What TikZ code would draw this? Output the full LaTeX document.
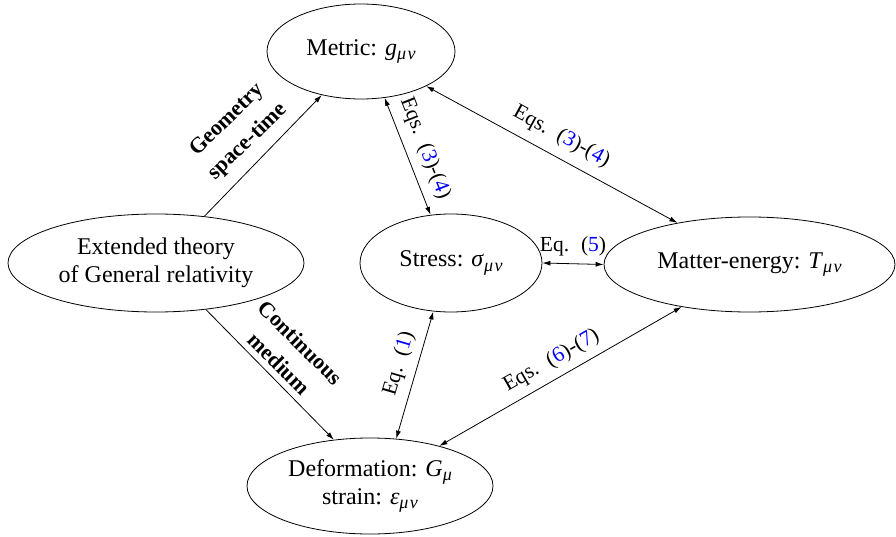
\documentclass[tikz,border=0pt]{standalone}
\usepackage{fontspec}
\setmainfont{Liberation Serif}
\newfontfamily\lblfont{Liberation Serif}
\usetikzlibrary{shapes.geometric,arrows.meta}
\definecolor{refblue}{RGB}{0,0,255}
\newcommand\eqn[1]{(\textcolor{refblue}{#1})}
\newcommand\lowsub[1]{\raisebox{-0.4ex}{\fontsize{18}{18}\selectfont\itshape #1}}
\newcommand\mn{μ\kern0.08emν}
\newcommand\gap{\hspace{0.55em}}
\tikzset{
  ell/.style={draw, ellipse, inner sep=0pt, line width=0.8pt, align=center,
    font=\fontsize{24}{28}\selectfont},
  conn/.style={line width=0.8pt, -{Latex[length=8pt,width=5pt]}},
  biconn/.style={line width=0.8pt, {Latex[length=8pt,width=5pt]}-{Latex[length=8pt,width=5pt]}},
  lbl/.style={inner sep=0pt, align=center, font=\lblfont\fontsize{21.5}{24}\selectfont},
  blbl/.style={inner sep=0pt, align=center, font=\lblfont\fontsize{22}{30}\selectfont\bfseries},
}
\begin{document}
\begin{tikzpicture}[x=1pt,y=-1pt]
\useasboundingbox (0,0) rectangle (896,537);
\node[ell, minimum width=188pt, minimum height=95pt] (metric) at (361,51.5) {Metric: \textit{g}\lowsub{\mn}};
\node[ell, minimum width=296pt, minimum height=98pt] (ext) at (156,263) {Extended theory\\of General relativity};
\node[ell, minimum width=182pt, minimum height=98pt] (stress) at (451,263) {Stress: \textit{σ}\lowsub{\mn}};
\node[ell, minimum width=291pt, minimum height=95pt] (matter) at (749.5,264.5) {Matter-energy: \textit{T}\lowsub{\mn}};
\node[ell, minimum width=246pt, minimum height=96pt] (def) at (370,486) {Deformation: \textit{G}\lowsub{μ}\\strain: \textit{ε}\lowsub{\mn}};

\draw[conn] (ext.44.4) -- (metric.-132);
\draw[conn] (ext.-43.8) -- (def.128.8);
\draw[biconn] (metric.-63.7) -- (stress.113.6)
  node[lbl, sloped, above=9pt, pos=0.49] (l1) {Eqs.\gap\eqn{3}-\eqn{4}};
\draw[biconn] (metric.-28.6) -- (matter.150.4)
  node[lbl, sloped, above=10pt, pos=0.5] (l2) {Eqs.\gap\eqn{3}-\eqn{4}};
\draw[biconn] (stress.0) -- (matter.180)
  node[lbl, above=7pt, midway] (l3) {Eq.\gap\eqn{5}};
\draw[biconn] (stress.-110.2) -- (def.61.1)
  node[lbl, sloped, above=8pt, pos=0.45] (l4) {Eq.\gap\eqn{1}};
\draw[biconn] (def.30.9) -- (matter.-148)
  node[lbl, sloped, above=8pt, pos=0.5] (l5) {Eqs.\gap\eqn{6}-\eqn{7}};

\node[blbl, rotate=44] (geo) at (238,131) {Geometry\\space-time};
\node[blbl, rotate=-45] (cont) at (290,353) {Continuous\\medium};
\end{tikzpicture}
\end{document}
